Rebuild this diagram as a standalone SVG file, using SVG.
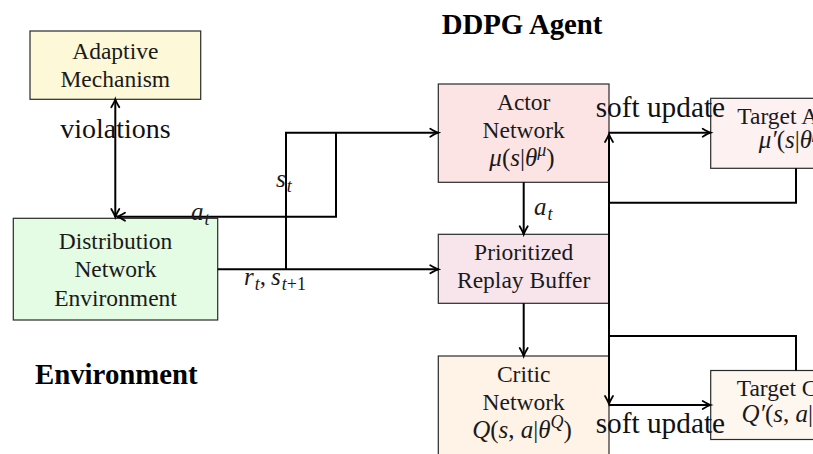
<svg xmlns="http://www.w3.org/2000/svg" width="813" height="454" viewBox="0 0 813 454">
  <style>
    .box { stroke: #2a2a2a; stroke-width: 1.2; }
    .txt { font-family: "Liberation Serif", "Times New Roman", serif; font-size: 23.5px; fill: #1a1a1a; text-anchor: middle; }
    .lbl { font-family: "Liberation Serif", "Times New Roman", serif; font-size: 28px; fill: #111; }
    .soft { font-size: 29.3px; }
    .hdr { font-family: "Liberation Serif", "Times New Roman", serif; font-size: 28.8px; font-weight: bold; fill: #000; }
    .m { font-family: "Liberation Serif", "Times New Roman", serif; font-size: 25px; fill: #1a1a1a; }
    .it { font-style: italic; }
    .sub { font-size: 18px; }
    .wire { fill: none; stroke: #000; stroke-width: 2; }
  </style>
  <defs>
    <marker id="arr" markerUnits="userSpaceOnUse" markerWidth="14" markerHeight="14" viewBox="-10 -7 12 14" refX="0" refY="0" orient="auto-start-reverse">
      <path d="M-8,-4 Q-2.5,-0.8 0,0 Q-2.5,0.8 -8,4" fill="none" stroke="#000" stroke-width="1.8" stroke-linecap="round"/>
    </marker>
  </defs>

  <!-- section headings -->
  <text class="hdr" x="441.7" y="33.5">DDPG Agent</text>
  <text class="hdr" x="35" y="384">Environment</text>

  <!-- nodes -->
  <g id="adaptive">
    <rect class="box" x="30" y="31" width="170.7" height="68.3" fill="#fdf8d7"/>
    <text class="txt" x="115.3" y="59.3">Adaptive</text>
    <text class="txt" x="115.3" y="87.3">Mechanism</text>
  </g>
  <g id="distribution">
    <rect class="box" x="13.3" y="218.3" width="204.4" height="101.7" fill="#e4fbe4"/>
    <text class="txt" x="115.5" y="249.3">Distribution</text>
    <text class="txt" x="115.5" y="276.7">Network</text>
    <text class="txt" x="115.5" y="306">Environment</text>
  </g>
  <g id="actor">
    <rect class="box" x="438.3" y="84" width="170.7" height="98.3" fill="#fde4e4"/>
    <text class="txt" x="523.7" y="110">Actor</text>
    <text class="txt" x="523.7" y="138">Network</text>
    <text class="m" x="522" y="166" text-anchor="middle"><tspan class="it">μ</tspan>(<tspan class="it">s</tspan>|<tspan class="it">θ</tspan><tspan class="sub it" dy="-10">μ</tspan><tspan dy="10">)</tspan></text>
  </g>
  <g id="buffer">
    <rect class="box" x="438.3" y="234.3" width="170.7" height="69" fill="#f8e4eb"/>
    <text class="txt" x="523.7" y="260">Prioritized</text>
    <text class="txt" x="523.7" y="288.3">Replay Buffer</text>
  </g>
  <g id="critic">
    <rect class="box" x="438.3" y="356" width="170.7" height="110" fill="#fef3e6"/>
    <text class="txt" x="523.7" y="381.7">Critic</text>
    <text class="txt" x="523.7" y="410">Network</text>
    <text class="m" x="522" y="437.5" text-anchor="middle"><tspan class="it">Q</tspan>(<tspan class="it">s</tspan>, <tspan class="it">a</tspan>|<tspan class="it">θ</tspan><tspan class="sub it" dy="-10">Q</tspan><tspan dy="10">)</tspan></text>
  </g>
  <g id="target-actor">
    <rect class="box" x="710.7" y="98.3" width="171" height="70" fill="#fdf1f1"/>
    <text class="txt" x="796" y="123.5">Target Actor</text>
    <text class="m" x="796" y="148" text-anchor="middle"><tspan class="it">μ′</tspan>(<tspan class="it">s</tspan>|<tspan class="it">θ</tspan><tspan class="sub it" dy="-10">μ′</tspan><tspan dy="10">)</tspan></text>
  </g>
  <g id="target-critic">
    <rect class="box" x="710.7" y="370.5" width="171" height="69" fill="#fef7f0"/>
    <text class="txt" x="796" y="395.5">Target Critic</text>
    <text class="m" x="796" y="421.5" text-anchor="middle"><tspan class="it">Q′</tspan>(<tspan class="it">s</tspan>, <tspan class="it">a</tspan>|<tspan class="it">θ</tspan><tspan class="sub it" dy="-10">Q′</tspan><tspan dy="10">)</tspan></text>
  </g>

  <!-- connectors -->
  <g id="connectors">
    <path class="wire" d="M115.3,99.3 V217" marker-start="url(#arr)" marker-end="url(#arr)"/>
    <path class="wire" d="M336,132.7 V216.7 H117" marker-end="url(#arr)"/>
    <path class="wire" d="M286,269.3 V132.7 H438.3" marker-end="url(#arr)"/>
    <path class="wire" d="M217.7,269.3 H438.3" marker-end="url(#arr)"/>
    <path class="wire" d="M523.7,182.3 V234.3" marker-end="url(#arr)"/>
    <path class="wire" d="M523.7,303.3 V356" marker-end="url(#arr)"/>
    <path class="wire" d="M609,132.7 H710.7" marker-end="url(#arr)"/>
    <path class="wire" d="M609,405 H710.7" marker-end="url(#arr)"/>
    <path class="wire" d="M609,134 V404" marker-start="url(#arr)" marker-end="url(#arr)"/>
    <path class="wire" d="M796,168.3 V202.7 H609"/>
    <path class="wire" d="M796,370.5 V336 H609"/>
  </g>

  <!-- connector labels -->
  <g id="labels">
    <text class="lbl" x="115.5" y="138" text-anchor="middle">violations</text>
    <text class="m" x="191" y="220"><tspan class="it">a</tspan><tspan class="sub it" dx="1" dy="5">t</tspan></text>
    <text class="m" x="276" y="186.7"><tspan class="it">s</tspan><tspan class="sub it" dx="1" dy="5">t</tspan></text>
    <text class="m" x="244" y="285"><tspan class="it">r</tspan><tspan class="sub it" dx="1" dy="5">t</tspan><tspan dy="-5">,</tspan><tspan class="it" dx="5">s</tspan><tspan class="sub" dx="1" dy="5"><tspan class="it">t</tspan>+1</tspan></text>
    <text class="m" x="534" y="215"><tspan class="it">a</tspan><tspan class="sub it" dx="1" dy="5">t</tspan></text>
    <text class="lbl soft" x="595.7" y="116.7">soft update</text>
    <text class="lbl soft" x="595.7" y="432.7">soft update</text>
  </g>
</svg>
